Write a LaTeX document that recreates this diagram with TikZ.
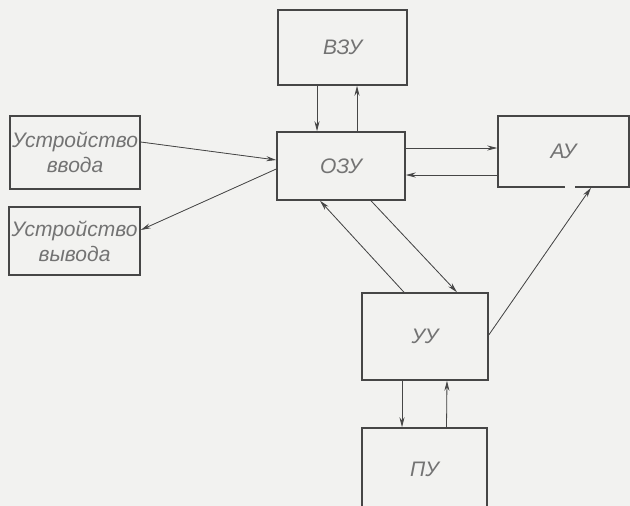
\documentclass[tikz,border=0pt]{standalone}
\usepackage{fontspec}
\setmainfont{Liberation Sans}
\usetikzlibrary{arrows.meta}
\definecolor{paper}{RGB}{242,242,240}
\definecolor{ink}{RGB}{70,70,70}
\definecolor{lettering}{RGB}{115,115,115}

\begin{document}
\begin{tikzpicture}[x=1pt,y=-1pt,>={Stealth[length=10pt,width=5pt]},
  font=\fontsize{21}{25}\selectfont\itshape,
  box/.style={draw=ink,line width=1.5pt,text=lettering,inner sep=0pt,align=center},
  arr/.style={->,draw=ink,fill=ink,line width=.8pt}]
  \useasboundingbox (0,0) rectangle (630,506);
  \clip (0,0) rectangle (630,506);
  \fill[paper] (0,0) rectangle (630,506);

  % blocks
  \node[box,minimum width=129pt,minimum height=75pt] (vzu) at (342.5,47.5) {ВЗУ};
  \node[box,minimum width=128pt,minimum height=68pt] (ozu) at (341,166) {ОЗУ};
  \node[box,minimum width=131pt,minimum height=71pt] (au) at (563.5,151.5) {АУ};
  \node[box,minimum width=126pt,minimum height=87pt] (uu) at (425,336.5) {УУ};
  \node[box,minimum width=125pt,minimum height=82pt] (pu) at (424.5,469) {ПУ};
  \node[box,minimum width=130pt,minimum height=73pt] (vvod) at (75,152.5) {Устройство\\ввода};
  \node[box,minimum width=131pt,minimum height=68pt] (vyvod) at (74.5,241) {Устройство\\вывода};
  \draw[paper,line width=3pt] ([xshift=1pt]au.south) -- ([xshift=11pt]au.south);

  % links
  \draw[arr] ([xshift=-25.5pt]vzu.south) -- ([xshift=-24pt]ozu.north);
  \draw[arr] ([xshift=16pt]ozu.north) -- ([xshift=14.5pt]vzu.south);
  \draw[arr] ([yshift=18pt]ozu.east) -- ([yshift=3.5pt]au.west);
  \draw[arr] ([yshift=-23.5pt]au.west) -- ([yshift=-9pt]ozu.east);
  \draw[arr] ([yshift=10.5pt]vvod.east) -- ([yshift=6pt]ozu.west);
  \draw[arr] ([yshift=-3pt]ozu.west) -- ([yshift=11pt]vyvod.east);
  \draw[arr] ([xshift=-21pt]uu.north) -- ([xshift=-21pt]ozu.south);
  \draw[arr] ([xshift=30pt]ozu.south) -- ([xshift=32pt]uu.north);
  \draw[arr] ([yshift=1.5pt]uu.east) -- ([xshift=27.5pt]au.south);
  \draw[arr] ([xshift=-23pt]uu.south) -- ([xshift=-22.5pt]pu.north);
  \draw[arr] ([xshift=22pt]pu.north) -- ([xshift=22pt]uu.south);
\end{tikzpicture}
\end{document}
